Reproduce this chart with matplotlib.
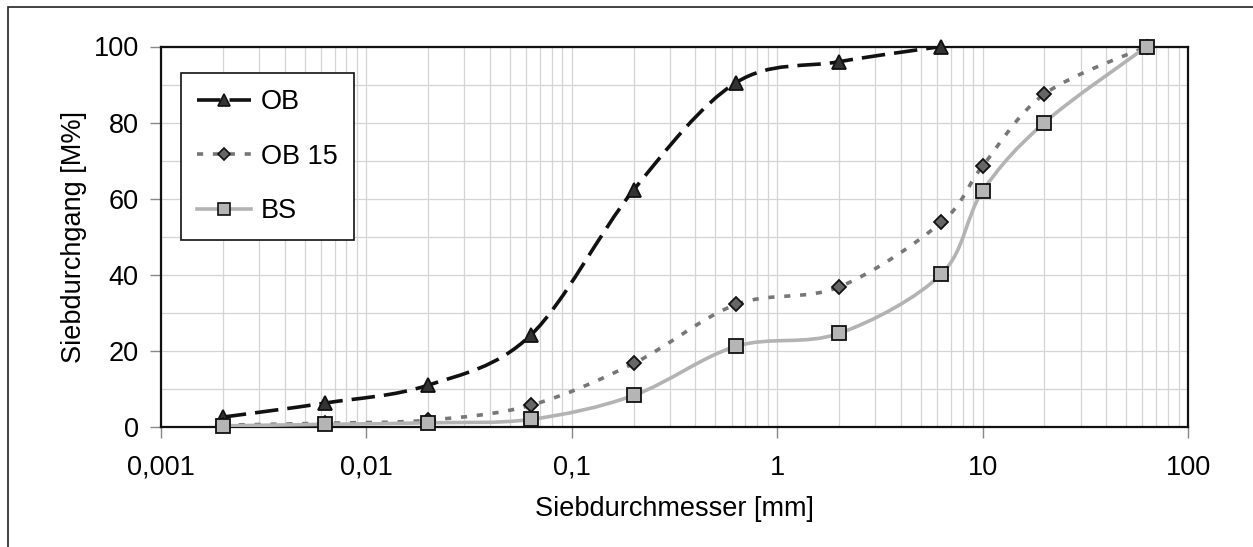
import numpy as np
import matplotlib
matplotlib.use('Agg')
import matplotlib.pyplot as plt
from matplotlib.path import Path
from matplotlib.patches import PathPatch, Rectangle
from matplotlib.lines import Line2D
from matplotlib.ticker import FixedLocator, NullFormatter

plt.rcParams['font.family'] = ['Liberation Sans', 'DejaVu Sans']

# -------------------- data ------------------------------------------------
sieve_ob = [0.002, 0.0063, 0.02, 0.063, 0.2, 0.63, 2, 6.3]
pass_ob = [2.6, 6.3, 11.0, 24.1, 62.3, 90.5, 96.0, 100.0]

sieve_ob15 = [0.002, 0.0063, 0.02, 0.063, 0.2, 0.63, 2, 6.3, 10, 20, 63]
pass_ob15 = [0.5, 1.0, 1.8, 5.7, 16.7, 32.2, 36.8, 53.8, 68.6, 87.5, 100.0]

sieve_bs = [0.002, 0.0063, 0.02, 0.063, 0.2, 0.63, 2, 6.3, 10, 20, 63]
pass_bs = [0.3, 0.7, 1.1, 2.0, 8.3, 21.2, 24.6, 40.2, 62.0, 80.0, 100.0]

labels = ['OB', 'OB 15', 'BS']
x_ticks = [0.001, 0.01, 0.1, 1, 10, 100]
x_labels = ['0,001', '0,01', '0,1', '1', '10', '100']
y_ticks = [0, 20, 40, 60, 80, 100]


# Excel-like smoothed line: cubic bezier segments built in log-x space
def smooth_path(xs, ys):
    lx = np.log10(xs)
    pts = np.column_stack([lx, ys])
    n = len(pts)
    verts = [pts[0]]
    codes = [Path.MOVETO]
    for i in range(n - 1):
        p_prev = pts[max(i - 1, 0)]
        p0 = pts[i]
        p1 = pts[i + 1]
        p_next = pts[min(i + 2, n - 1)]
        c1 = p0 + (p1 - p_prev) / 6.0
        c2 = p1 - (p_next - p0) / 6.0
        verts += [c1, c2, p1]
        codes += [Path.CURVE4] * 3
    verts = np.array(verts)
    verts[:, 0] = 10 ** verts[:, 0]
    return Path(verts, codes)


fig = plt.figure(figsize=(12.53, 5.47), dpi=100)
ax = fig.add_axes([161 / 1253, (547 - 427) / 547, (1188 - 161) / 1253, (427 - 46.5) / 547])

# outer frame (only top and left edge visible in the original)
fig.patches.append(Rectangle((8 / 1253, -0.05), 1.2, (547 - 7) / 547 + 0.05,
                             transform=fig.transFigure, fill=False,
                             edgecolor='#222222', lw=1.2))

series = [
    (sieve_ob, pass_ob, '#111111', (0, (6.5, 2.5)), '^', '#333333', 10),
    (sieve_ob15, pass_ob15, '#777777', (0, (1.7, 2.7)), 'D', '#666666', 7.5),
    (sieve_bs, pass_bs, '#b3b3b3', '-', 's', '#b5b5b5', 10.5),
]

handles = []
z = 3
for xs, ys, lc, ls, mk, mfc, ms in series:
    patch = PathPatch(smooth_path(xs, ys), facecolor='none', edgecolor=lc,
                      lw=2.6, linestyle=ls, zorder=z, transform=ax.transData)
    ax.add_patch(patch)
    ax.plot(xs, ys, linestyle='none', marker=mk, markersize=ms,
            markerfacecolor=mfc, markeredgecolor='#111111', markeredgewidth=1.3,
            zorder=z + 0.5, clip_on=False)
    handles.append(Line2D([], [], color=lc, lw=2.6, linestyle=ls, marker=mk,
                          markersize=ms * 0.85, markerfacecolor=mfc,
                          markeredgecolor='#111111', markeredgewidth=1.2))
    z += 1

ax.set_xscale('log')
ax.set_xlim(0.001, 100)
ax.set_ylim(0, 100)

ax.xaxis.set_major_locator(FixedLocator(x_ticks))
ax.set_xticklabels(x_labels)
ax.xaxis.set_minor_locator(FixedLocator(
    [m * 10.0 ** e for e in range(-3, 2) for m in range(2, 10)]))
ax.xaxis.set_minor_formatter(NullFormatter())
ax.yaxis.set_major_locator(FixedLocator(y_ticks))
ax.yaxis.set_minor_locator(FixedLocator([10, 30, 50, 70, 90]))

ax.grid(True, which='both', color='#d4d4d4', lw=0.9, zorder=0)
ax.set_axisbelow(True)
ax.tick_params(which='major', direction='out', length=8, width=1,
               color='#888888', labelsize=19.5)
ax.tick_params(axis='x', which='major', pad=12)
ax.tick_params(axis='y', which='major', pad=8)
ax.tick_params(which='minor', length=0)
for sp in ax.spines.values():
    sp.set_linewidth(1.6)
    sp.set_color('#111111')

ax.set_xlabel('Siebdurchmesser [mm]', fontsize=19.5, labelpad=11)
ax.set_ylabel('Siebdurchgang [M%]', fontsize=19.5, labelpad=5)

leg = ax.legend(handles=handles, labels=labels, loc='upper left',
                bbox_to_anchor=(20 / 1027, 1 - 26.5 / 380.5),
                borderaxespad=0, fontsize=19.5, frameon=True, fancybox=False,
                edgecolor='#111111', framealpha=1, handlelength=2.0,
                handletextpad=0.35, labelspacing=1.05, borderpad=0.6, numpoints=1)
leg.get_frame().set_linewidth(1.2)

fig.savefig('out.png', dpi=100)
